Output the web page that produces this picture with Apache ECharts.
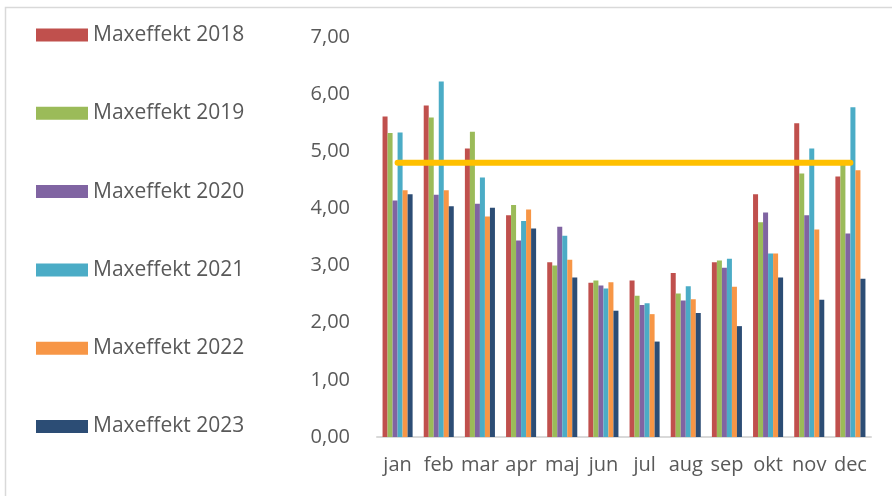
<!DOCTYPE html>
<html>
<head>
<meta charset="utf-8">
<script src="https://cdn.jsdelivr.net/npm/echarts@6/dist/echarts.min.js"></script>
<style>html,body{margin:0;padding:0;background:#fff;}#c{width:892px;height:496px;}</style>
</head>
<body>
<div id="c"></div>
<script>
const months = ['jan','feb','mar','apr','maj','jun','jul','aug','sep','okt','nov','dec'];
const yTicks = [0,1,2,3,4,5,6,7];
const s2018 = [5.61,5.80,5.05,3.88,3.06,2.70,2.74,2.87,3.06,4.25,5.49,4.56];
const s2019 = [5.32,5.59,5.34,4.06,3.00,2.74,2.47,2.51,3.09,3.76,4.61,4.78];
const s2020 = [4.14,4.24,4.08,3.44,3.68,2.65,2.31,2.39,2.96,3.93,3.88,3.56];
const s2021 = [5.33,6.22,4.54,3.78,3.52,2.60,2.34,2.64,3.12,3.21,5.05,5.77];
const s2022 = [4.32,4.32,3.86,3.98,3.10,2.71,2.15,2.41,2.63,3.21,3.63,4.67];
const s2023 = [4.25,4.04,4.01,3.65,2.79,2.21,1.67,2.17,1.94,2.79,2.40,2.77];
const limit = [4.8,4.8,4.8,4.8,4.8,4.8,4.8,4.8,4.8,4.8,4.8,4.8];

const names = ['Maxeffekt 2018','Maxeffekt 2019','Maxeffekt 2020','Maxeffekt 2021','Maxeffekt 2022','Maxeffekt 2023'];
const colors = ['#C0504D','#9BBB59','#8064A2','#4BACC6','#F79646','#2C4D75'];
const data = [s2018,s2019,s2020,s2021,s2022,s2023];

const font = '"Open Sans", "Liberation Sans", sans-serif';
const chart = echarts.init(document.getElementById('c'));
const series = data.map((d,i)=>({
  name: names[i], type:'bar', data:d, barGap:'0%', barCategoryGap:'27%',
  itemStyle:{color:colors[i]}
}));
series.push({
  name:'Gräns', type:'line', data:limit, symbol:'none', z:10,
  lineStyle:{color:'#FFC000', width:6, cap:'round'}
});
chart.setOption({
  animation:false,
  graphic:[{type:'rect', shape:{x:5.5,y:7.5,width:900,height:520}, style:{fill:'none', stroke:'#D9D9D9', lineWidth:1.5}, silent:true}],
  legend:{
    data:names, orient:'vertical', left:31, top:19, itemWidth:52, itemHeight:13, itemGap:56.3,
    icon:'rect',
    textStyle:{fontFamily:font, fontSize:21, color:'#595959', lineHeight:22}
  },
  grid:{left:377, right:21, top:37, bottom:59},
  xAxis:{
    type:'category', data:months,
    axisLine:{lineStyle:{color:'#D9D9D9', width:2}},
    axisTick:{show:false},
    axisLabel:{fontFamily:font, fontSize:20, color:'#595959', margin:18, interval:0}
  },
  yAxis:{
    type:'value', min:yTicks[0], max:yTicks[yTicks.length-1], interval:1,
    axisLine:{show:false}, axisTick:{show:false}, splitLine:{show:false},
    axisLabel:{fontFamily:font, fontSize:20, color:'#595959', margin:27,
      formatter:v=>v.toFixed(2).replace('.',',')}
  },
  series:series
});
</script>
</body>
</html>
